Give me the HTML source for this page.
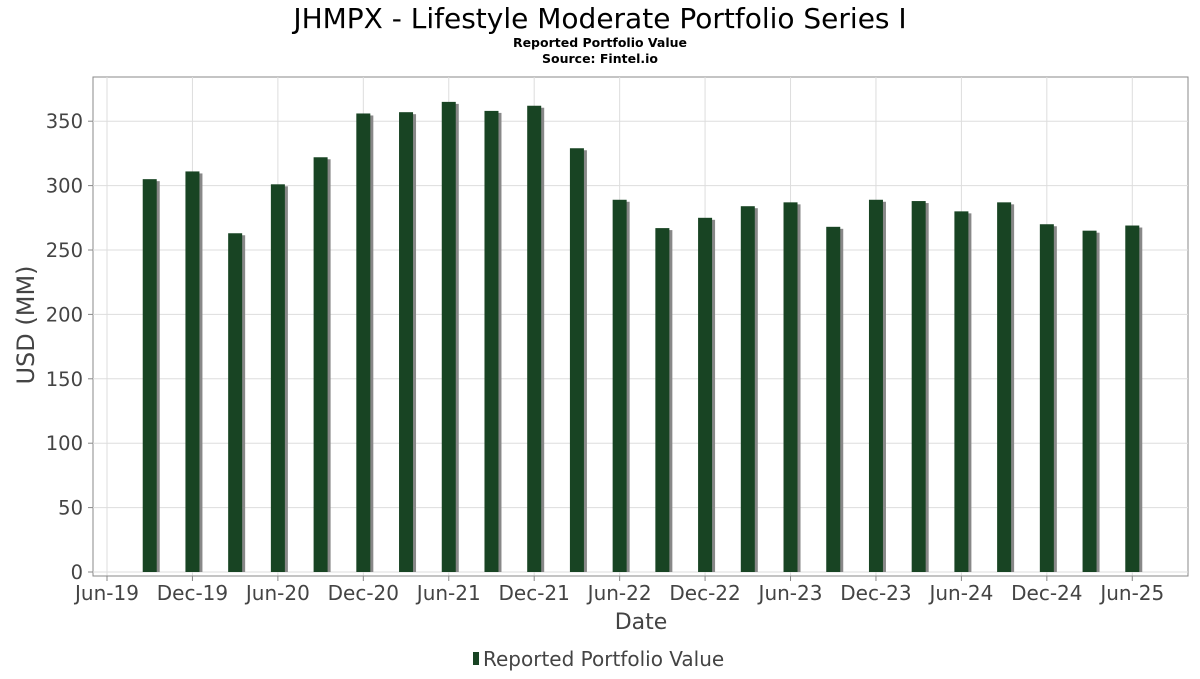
<!DOCTYPE html>
<html><head><meta charset="utf-8"><style>
body{margin:0;background:#fff;font-family:"DejaVu Sans","Liberation Sans",sans-serif}
</style></head><body>
<svg id="c" width="1200" height="675" xmlns="http://www.w3.org/2000/svg">
<text x="600" y="28" text-anchor="middle" font-size="28" fill="#000">JHMPX - Lifestyle Moderate Portfolio Series I</text>
<text x="600" y="47" text-anchor="middle" font-size="12.5" font-weight="bold">Reported Portfolio Value</text>
<text x="600" y="63" text-anchor="middle" font-size="12.5" font-weight="bold">Source: Fintel.io</text>
<rect x="93" y="77" width="1095" height="499" fill="#fff" stroke="#888"/>
<g id="grid"></g><g id="bars"></g><g id="axes"></g>
<text x="34" y="325" text-anchor="middle" font-size="24" fill="#444" transform="rotate(-90 34 325)">USD (MM)</text>
<text x="641" y="629" text-anchor="middle" font-size="22" fill="#444">Date</text>
<g>
<rect x="473" y="652" width="6" height="13" fill="#184423"/>
<text x="483" y="666" font-size="20" fill="#444">Reported Portfolio Value</text></g>
</svg>
<script>
const yTicks=[0,50,100,150,200,250,300,350];
const xTickLabels=["Jun-19","Dec-19","Jun-20","Dec-20","Jun-21","Dec-21","Jun-22","Dec-22","Jun-23","Dec-23","Jun-24","Dec-24","Jun-25"];
const barMonths=[3,6,9,12,15,18,21,24,27,30,33,36,39,42,45,48,51,54,57,60,63,66,69,72];
const values=[305,311,263,301,322,356,357,365,358,362,329,289,267,275,284,287,268,289,288,280,287,270,265,269];
const NS="http://www.w3.org/2000/svg";
const x=m=>107+m*14.24;
const y=v=>572-v*1.288;
function mk(t,a,p){const e=document.createElementNS(NS,t);for(const k in a)e.setAttribute(k,a[k]);p.appendChild(e);return e;}
const g=document.getElementById('grid'),b=document.getElementById('bars'),ax=document.getElementById('axes');
yTicks.forEach(v=>{
 const l=mk('line',{x1:93,x2:1188,y1:y(v),y2:y(v),stroke:'#ddd'},g);
 
 
 const t=mk('text',{x:83,y:y(v)+7,'text-anchor':'end','font-size':19.5,fill:'#444'},ax);
 t.textContent=v;
 
 
 mk('line',{x1:88,x2:93,y1:y(v),y2:y(v),stroke:'#888'},ax);
});
xTickLabels.forEach((s,i)=>{
 const px=x(i*6);
 const l=mk('line',{x1:px,x2:px,y1:77,y2:576,stroke:'#ddd'},g);
 
 
 mk('line',{x1:px,x2:px,y1:576,y2:581,stroke:'#888'},ax);
 const t=mk('text',{x:px,y:600,'text-anchor':'middle','font-size':20,fill:'#444'},ax);
 t.textContent=s;
 
 
});
mk('line',{x1:98,x2:1188,y1:576,y2:576,stroke:'#888'},ax);
values.forEach((v,i)=>{
 const cx=x(barMonths[i]);
 const s=mk('rect',{x:cx-4,y:y(v)+2,width:14,height:572-y(v)-2,fill:'#888'},b);
 
 
 const r=mk('rect',{x:cx-7,y:y(v),width:14,height:572-y(v),fill:'#184423'},b);
 
 
});
</script>
</body></html>
